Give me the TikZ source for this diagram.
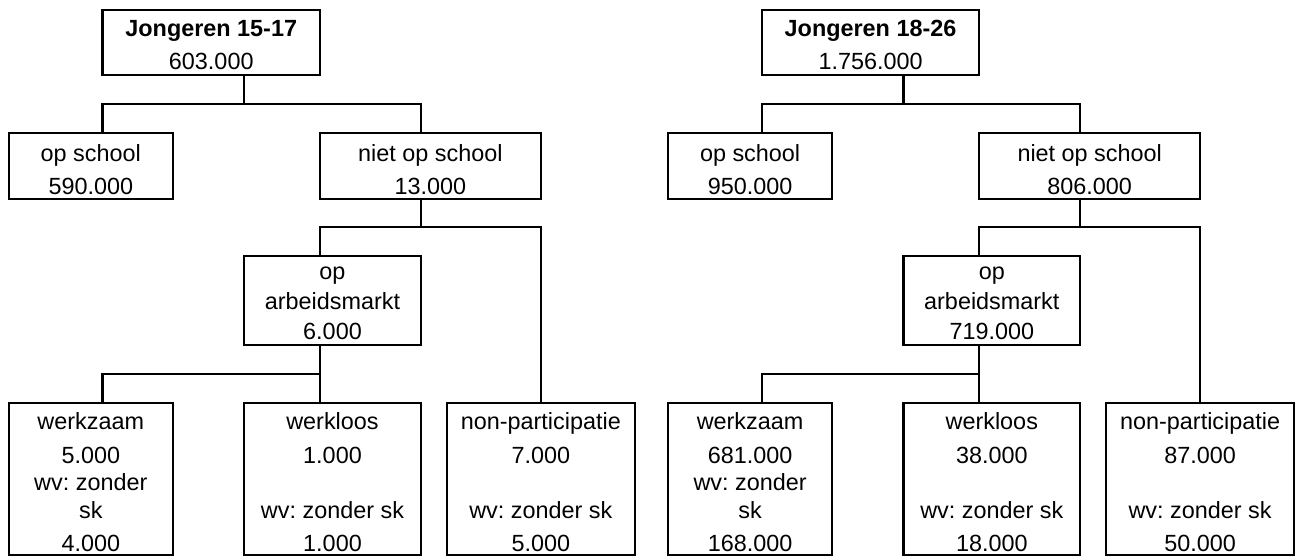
\documentclass[tikz,border=0pt]{standalone}
\usepackage{fontspec}
\setmainfont{Liberation Sans}
\frenchspacing
\newcommand\bx[5]{\node[box, minimum width={(#4-#2)*0.5pt}, minimum height={(#5-#3)*0.5pt}] (#1) at ({(#2+#4)/2},{(#3+#5)/2}) {};}
\newcommand\tl[4]{\node[txt] (#1) at (#2,#3) {#4};}
\begin{document}
\begin{tikzpicture}[x=0.5pt,y=-0.5pt,
  box/.style={draw, line width=1.1pt, inner sep=0pt},
  txt/.style={inner sep=0pt, anchor=base, font=\fontsize{11.7}{14}\selectfont\frenchspacing},
  conn/.style={line width=1.1pt}]
\useasboundingbox (0,0) rectangle (1296,556);
% ---------- left tree ----------
\begin{scope}
\bx{J1}{102.5}{10}{320}{75}
\bx{S1}{8.75}{133}{172.9}{199}
\bx{N1}{320}{133}{540.8}{199}
\bx{A1}{244.2}{256}{420.8}{345}
\bx{WZ1}{8.75}{403}{172.9}{555}
\bx{WL1}{244.2}{403}{420.8}{555}
\bx{NP1}{447}{403}{634.6}{555}
\tl{J1a}{211.25}{37}{\textbf{Jongeren 15-17}}
\tl{J1b}{211.25}{70}{603.000}
\tl{S1a}{90.8}{161.7}{op school}
\tl{S1b}{90.8}{194}{590.000}
\tl{N1a}{430.4}{161.7}{niet op school}
\tl{N1b}{430.4}{194}{13.000}
\tl{A1a}{332.5}{279}{op}
\tl{A1b}{332.5}{309}{arbeidsmarkt}
\tl{A1c}{332.5}{339.5}{6.000}
\tl{WZ1a}{90.8}{429.5}{werkzaam}
\tl{WZ1b}{90.8}{463}{5.000}
\tl{WZ1c}{90.8}{490.5}{wv: zonder}
\tl{WZ1d}{90.8}{518.5}{sk}
\tl{WZ1e}{90.8}{551.5}{4.000}
\tl{WL1a}{332.5}{429.5}{werkloos}
\tl{WL1b}{332.5}{463}{1.000}
\tl{WL1d}{332.5}{518.5}{wv: zonder sk}
\tl{WL1e}{332.5}{551.5}{1.000}
\tl{NP1a}{540.8}{429.5}{non-participatie}
\tl{NP1b}{540.8}{463}{7.000}
\tl{NP1d}{540.8}{518.5}{wv: zonder sk}
\tl{NP1e}{540.8}{551.5}{5.000}
\coordinate (L-j) at (244.2,104);
\coordinate (L-s) at (102.5,104);
\coordinate (L-n) at (420.8,104);
\coordinate (L-k) at (420.8,227);
\coordinate (L-a) at (320,227);
\coordinate (L-p) at (540.8,227);
\coordinate (L-m) at (320,374);
\coordinate (L-w) at (102.5,374);
\draw[conn] (J1.south -| L-j) -- (L-j);
\draw[conn] (S1.north -| L-s) -- (L-s) -- (L-n) -- (N1.north -| L-n);
\draw[conn] (N1.south -| L-k) -- (L-k);
\draw[conn] (A1.north -| L-a) -- (L-a) -- (L-p) -- (NP1.north -| L-p);
\draw[conn] (A1.south -| L-m) -- (L-m);
\draw[conn] (WZ1.north -| L-w) -- (L-w) -- (L-m) -- (WL1.north -| L-m);
\end{scope}
% ---------- right tree ----------
\begin{scope}[shift={(659.3,0)}]
\bx{J2}{102.5}{10}{320}{75}
\bx{S2}{8.75}{133}{172.9}{199}
\bx{N2}{320}{133}{540.8}{199}
\bx{A2}{244.2}{256}{420.8}{345}
\bx{WZ2}{8.75}{403}{172.9}{555}
\bx{WL2}{244.2}{403}{420.8}{555}
\bx{NP2}{447}{403}{634.6}{555}
\tl{J2a}{211.25}{37}{\textbf{Jongeren 18-26}}
\tl{J2b}{211.25}{70}{1.756.000}
\tl{S2a}{90.8}{161.7}{op school}
\tl{S2b}{90.8}{194}{950.000}
\tl{N2a}{430.4}{161.7}{niet op school}
\tl{N2b}{430.4}{194}{806.000}
\tl{A2a}{332.5}{279}{op}
\tl{A2b}{332.5}{309}{arbeidsmarkt}
\tl{A2c}{332.5}{339.5}{719.000}
\tl{WZ2a}{90.8}{429.5}{werkzaam}
\tl{WZ2b}{90.8}{463}{681.000}
\tl{WZ2c}{90.8}{490.5}{wv: zonder}
\tl{WZ2d}{90.8}{518.5}{sk}
\tl{WZ2e}{90.8}{551.5}{168.000}
\tl{WL2a}{332.5}{429.5}{werkloos}
\tl{WL2b}{332.5}{463}{38.000}
\tl{WL2d}{332.5}{518.5}{wv: zonder sk}
\tl{WL2e}{332.5}{551.5}{18.000}
\tl{NP2a}{540.8}{429.5}{non-participatie}
\tl{NP2b}{540.8}{463}{87.000}
\tl{NP2d}{540.8}{518.5}{wv: zonder sk}
\tl{NP2e}{540.8}{551.5}{50.000}
\coordinate (R-j) at (244.2,104);
\coordinate (R-s) at (102.5,104);
\coordinate (R-n) at (420.8,104);
\coordinate (R-k) at (420.8,227);
\coordinate (R-a) at (320,227);
\coordinate (R-p) at (540.8,227);
\coordinate (R-m) at (320,374);
\coordinate (R-w) at (102.5,374);
\draw[conn] (J2.south -| R-j) -- (R-j);
\draw[conn] (S2.north -| R-s) -- (R-s) -- (R-n) -- (N2.north -| R-n);
\draw[conn] (N2.south -| R-k) -- (R-k);
\draw[conn] (A2.north -| R-a) -- (R-a) -- (R-p) -- (NP2.north -| R-p);
\draw[conn] (A2.south -| R-m) -- (R-m);
\draw[conn] (WZ2.north -| R-w) -- (R-w) -- (R-m) -- (WL2.north -| R-m);
\end{scope}
\end{tikzpicture}
\end{document}
